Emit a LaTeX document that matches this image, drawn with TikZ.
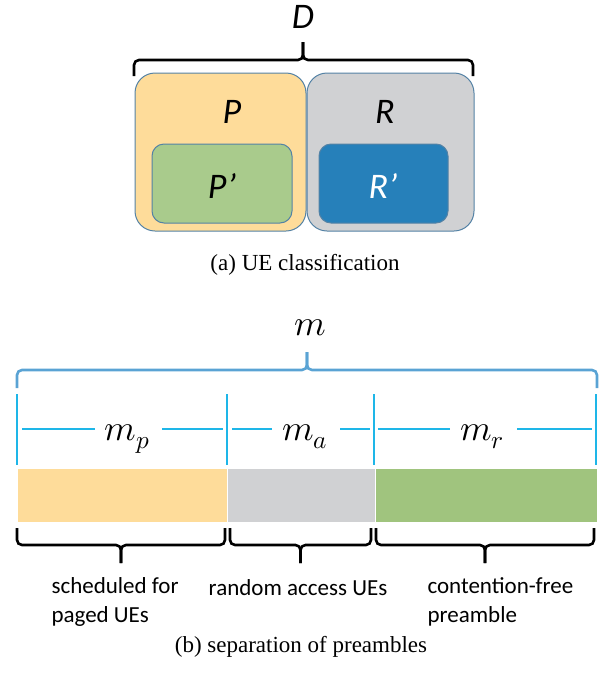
\documentclass[tikz,border=0pt]{standalone}
\usepackage{fontspec}
\usepackage{unicode-math}
\setmainfont{Liberation Serif}
\newfontfamily\calibri{Carlito}
\usepackage{tikz}
\usetikzlibrary{positioning}

\definecolor{paged}{RGB}{254,220,154}
\definecolor{random}{RGB}{208,209,211}
\definecolor{pfree}{RGB}{169,203,140}
\definecolor{rfree}{RGB}{38,128,186}
\definecolor{barfree}{RGB}{160,196,126}
\definecolor{edge}{RGB}{84,130,165}
\definecolor{bracem}{RGB}{90,163,212}
\definecolor{dimline}{RGB}{30,182,232}

\begin{document}
\begin{tikzpicture}[
  x=1pt, y=-1pt,
  set/.style={rectangle, draw=edge, line width=1pt, rounded corners=20pt, inner sep=0pt},
  subset/.style={set, rounded corners=12pt},
  setlabel/.style={anchor=base, font=\calibri\itshape\fontsize{36}{40}\selectfont},
  brace/.style={line width=2.6pt, rounded corners=5pt},
  dim/.style={dimline, line width=2.6pt},
  seg/.style={rectangle, draw=white, line width=0.8pt, inner sep=0pt, minimum height=54pt},
  sizelabel/.style={anchor=base, font=\fontsize{36}{40}\selectfont},
  note/.style={font=\calibri\fontsize{23}{29}\selectfont, align=left},
  caption/.style={anchor=base, font=\fontsize{23}{27}\selectfont}
]
\useasboundingbox (0,0) rectangle (612,673);

% (a) UE classification
\node[set, fill=paged, minimum width=171pt, minimum height=158pt] (P) at (220.5,152) {};
\node[set, fill=random, minimum width=167pt, minimum height=158pt] (R) at (390.5,152) {};
\node[subset, fill=pfree, minimum width=140pt, minimum height=79pt] (Pp) at (222,183.5) {};
\node[subset, fill=rfree, minimum width=129pt, minimum height=79pt] (Rp) at (383.5,183.5) {};

\node[setlabel] (Plabel) at (232,123) {P};
\node[setlabel] (Rlabel) at (385,123) {R};
\node[setlabel] (Pplabel) at (222,198) {P’};
\node[setlabel, white] (Rplabel) at (383,198) {R’};

% brace over D
\draw[brace] (134,76) -- (134,60) -- (303,60) -- (303,42);
\draw[brace] (473,76) -- (473,60) -- (303,60) -- (303,42);
\node[setlabel] (D) at (303,28) {D};

\node[caption] (capa) at (305,270) {(a) UE classification};

% (b) separation of preambles
\draw[brace, bracem] (17,388) -- (17,370) -- (307,370) -- (307,352);
\draw[brace, bracem] (597,388) -- (597,370) -- (307,370) -- (307,352);
\node[sizelabel] (m) at (310,335) {$m$};

% dimension lines
\foreach \x in {17,227,374,596}
  \draw[dim] (\x,394) -- (\x,465);
\foreach \a/\b in {22/95,162/223,232/272,340/370,378/450,517/592}
  \draw[dim] (\a,429) -- (\b,429);
\node[sizelabel] (mp) at (127,440) {$m_p$};
\node[sizelabel] (ma) at (305,440) {$m_a$};
\node[sizelabel] (mr) at (482,440) {$m_r$};

% preamble bar
\node[seg, fill=paged, minimum width=210pt] (barp) at (122,495) {};
\node[seg, fill=random, minimum width=148pt] (bara) at (301,495) {};
\node[seg, fill=barfree, minimum width=222pt] (barr) at (486,495) {};

% braces under the bar
\foreach \a/\b in {17/225,230/371,376/594}{
  \pgfmathsetmacro\c{(\a+\b)/2}
  \draw[brace] (\a,528) -- (\a,545) -- (\c,545) -- (\c,563);
  \draw[brace] (\b,528) -- (\b,545) -- (\c,545) -- (\c,563);
}

\node[note, anchor=west] (paged) at (48,602) {scheduled for\\paged UEs};
\node[note] (access) at (298,588) {random access UEs};
\node[note, anchor=west] (free) at (424,602) {contention-free\\preamble};

\node[caption] (capb) at (301,652) {(b) separation of preambles};

\end{tikzpicture}
\end{document}
